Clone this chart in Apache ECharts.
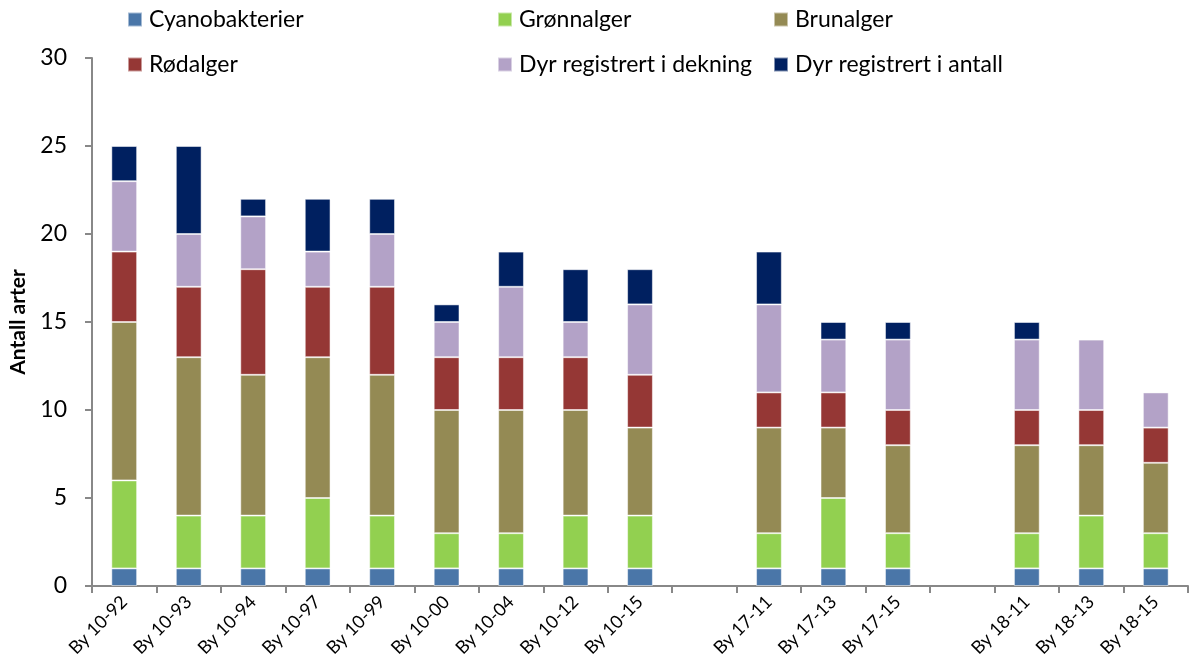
<!DOCTYPE html>
<html><head><meta charset="utf-8">
<script src="https://cdn.jsdelivr.net/npm/echarts@6/dist/echarts.min.js"></script>
<style>html,body{margin:0;padding:0;background:#fff}#c{width:1190px;height:667px}</style>
</head><body><div id="c"></div>
<script>
const categories = ['By 10-92','By 10-93','By 10-94','By 10-97','By 10-99','By 10-00','By 10-04','By 10-12','By 10-15','','By 17-11','By 17-13','By 17-15','','By 18-11','By 18-13','By 18-15'];
const cyanobakterier = [1,1,1,1,1,1,1,1,1,null,1,1,1,null,1,1,1];
const gronnalger     = [5,3,3,4,3,2,2,3,3,null,2,4,2,null,2,3,2];
const brunalger      = [9,9,8,8,8,7,7,6,5,null,6,4,5,null,5,4,4];
const rodalger       = [4,4,6,4,5,3,3,3,3,null,2,2,2,null,2,2,2];
const dyrDekning     = [4,3,3,2,3,2,4,2,4,null,5,3,4,null,4,4,2];
const dyrAntall      = [2,5,1,3,2,1,2,3,2,null,3,1,1,null,1,0,0];
const yTicks = [0,5,10,15,20,25,30];

const names = ['Cyanobakterier','Grønnalger','Brunalger','Rødalger','Dyr registrert i dekning','Dyr registrert i antall'];
const colors = ['#4A76A8','#92D050','#948A54','#953735','#B3A2C7','#002060'];
const values = [cyanobakterier,gronnalger,brunalger,rodalger,dyrDekning,dyrAntall];
const font = 'Lato, "Open Sans", sans-serif';

const legendBase = {orient:'vertical', itemWidth:14, itemHeight:14, itemGap:22, padding:0,
  icon:'rect', textStyle:{fontSize:23, fontFamily:font, color:'#000', padding:[0,0,0,2]}};
const chart = echarts.init(document.getElementById('c'));
chart.setOption({
  animation:false,
  color: colors,
  legend: [
    Object.assign({}, legendBase, {left:127, top:8, data:[names[0],names[3]]}),
    Object.assign({}, legendBase, {left:497, top:8, data:[names[1],names[4]]}),
    Object.assign({}, legendBase, {left:773, top:8, data:[names[2],names[5]]})
  ],
  grid:{left:85, right:2, top:58, bottom:81, containLabel:false},
  xAxis:{type:'category', data:categories,
    axisLine:{lineStyle:{color:'#888', width:2}},
    axisTick:{show:true, alignWithLabel:false, length:7, lineStyle:{color:'#888', width:2}},
    axisLabel:{rotate:45, fontSize:18, fontFamily:font, color:'#000', margin:13, interval:0}},
  yAxis:{type:'value', min:0, max:30, interval:5,
    name:'Antall arter', nameLocation:'middle', nameGap:63, nameRotate:90,
    nameTextStyle:{fontSize:21, fontWeight:'bold', fontFamily:font, color:'#000'},
    axisLine:{show:true, lineStyle:{color:'#888', width:2}},
    axisTick:{show:true, length:7, lineStyle:{color:'#888', width:2}},
    splitLine:{show:false},
    axisLabel:{fontSize:23, fontFamily:font, color:'#000', margin:25}},
  series: names.map((n,i)=>({name:n, type:'bar', stack:'a', barWidth:'40%',
    data: values[i], itemStyle:{color:colors[i], borderColor:'rgba(255,255,255,0.5)', borderWidth:1}}))
});
</script></body></html>
